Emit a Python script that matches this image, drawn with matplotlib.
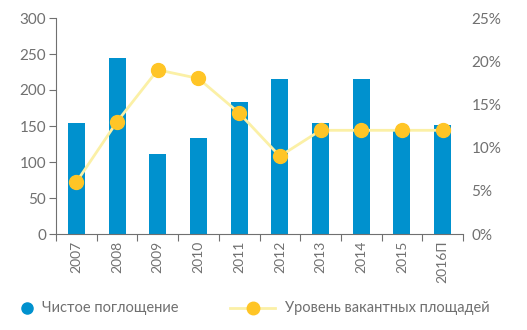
import matplotlib
matplotlib.use("Agg")
import matplotlib.pyplot as plt
from matplotlib.lines import Line2D
import numpy as np

years = ["2007", "2008", "2009", "2010", "2011", "2012", "2013", "2014", "2015", "2016П"]
absorption = [154, 244, 111, 133, 183, 215, 154, 215, 144, 152]
vacancy = [6, 13, 19, 18, 14, 9, 12, 12, 12, 12]

BLUE = "#0091CE"
GOLD = "#FFC526"
PALE = "#FBF0A6"
GREY = "#707070"

plt.rcParams["font.family"] = ["Lato", "DejaVu Sans"]

W, H = 527, 330
fig = plt.figure(figsize=(W / 100, H / 100), dpi=100)
ax = fig.add_axes([56 / W, 1 - 234 / H, (463 - 56) / W, (234 - 18) / H])
x = np.arange(len(years))

ax.bar(x, absorption, width=0.42, color=BLUE, zorder=2)
ax.set_xlim(-0.5, len(years) - 0.5)
ax.set_ylim(0, 300)
ax.set_yticks(range(0, 301, 50))
ax.set_xticks(x)
ax.set_xticklabels(years, rotation=90)
ax.set_xticks(np.arange(-0.5, len(years), 1), minor=True)
ax.tick_params(axis="x", which="major", length=0, pad=5)
ax.tick_params(axis="x", which="minor", length=5, color=GREY, width=0.8)
ax.tick_params(axis="y", length=5, color=GREY, width=0.8, labelcolor=GREY, labelsize=11, pad=2)
ax.tick_params(axis="x", labelcolor=GREY, labelsize=10)
for s in ("top", "right"):
    ax.spines[s].set_visible(False)
for s in ("left", "bottom"):
    ax.spines[s].set_color(GREY)
    ax.spines[s].set_linewidth(0.8)

ax2 = ax.twinx()
ax2.plot(x, vacancy, color=PALE, lw=2, zorder=3)
ax2.plot(x, vacancy, "o", color=GOLD, ms=10, zorder=4)
ax2.set_ylim(0, 25)
ax2.set_yticks(range(0, 26, 5))
ax2.set_yticklabels([f"{v}%" for v in range(0, 26, 5)])
ax2.tick_params(axis="y", length=0, labelcolor=GREY, labelsize=11, pad=6)
for s in ("top", "right", "left", "bottom"):
    ax2.spines[s].set_visible(False)

# Legend drawn in figure pixel coordinates
def fx(px):
    return px / W

def fy(py):
    return 1 - py / H

ly = 308
fig.add_artist(Line2D([fx(27)], [fy(ly)], ls="none", marker="o", color=BLUE, ms=8,
                      transform=fig.transFigure))
fig.text(fx(42), fy(ly), "Чистое поглощение", color=GREY, fontsize=10.5, va="center")
fig.add_artist(Line2D([fx(230), fx(275)], [fy(ly), fy(ly)], color=PALE, lw=2,
                      transform=fig.transFigure))
fig.add_artist(Line2D([fx(253)], [fy(ly)], ls="none", marker="o", color=GOLD, ms=9,
                      transform=fig.transFigure))
fig.text(fx(285), fy(ly), "Уровень вакантных площадей", color=GREY, fontsize=10.5, va="center")

fig.savefig("out.png", dpi=100)
